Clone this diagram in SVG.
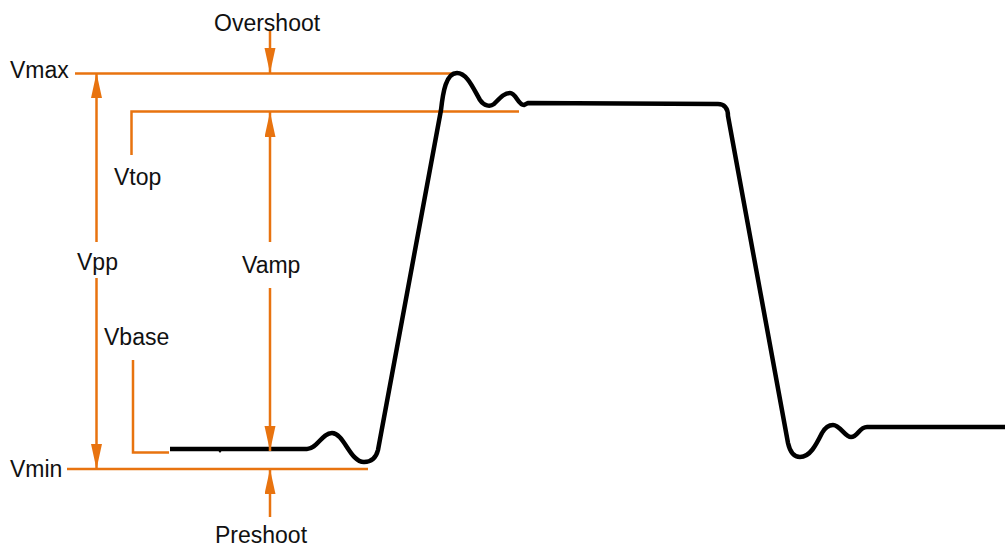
<svg xmlns="http://www.w3.org/2000/svg" width="1005" height="550" viewBox="0 0 1005 550">
  <style>
    .lbl { font-family: "Liberation Sans", Arial, sans-serif; font-size: 23px; fill: #111; }
    .ref { stroke: #E8730F; stroke-width: 2.5; fill: none; }
    .dim { stroke: #E8730F; stroke-width: 2.5; fill: none; }
    .wave { stroke: #000; stroke-width: 4.5; fill: none; stroke-linejoin: round; stroke-linecap: butt; }
  </style>
  <defs>
    <marker id="ah" markerUnits="userSpaceOnUse" markerWidth="26" markerHeight="12" refX="25" refY="5.5" orient="auto">
      <path d="M0,0 L25,5.5 L0,11 Z" fill="#E8730F"/>
    </marker>
  </defs>
  <rect width="1005" height="550" fill="#fff"/>

  <g id="reference-lines">
    <line class="ref" x1="75" y1="73.5" x2="462" y2="73.5"/>
    <polyline class="ref" points="131.5,155 131.5,111.5 519,111.5"/>
    <polyline class="ref" points="133,360 133,452.5 169,452.5"/>
    <line class="ref" x1="67" y1="469" x2="368" y2="469"/>
  </g>

  <g id="waveform">
    <path class="wave" d="M170,449 L307,449 C317,449 322,433 332,433 C344,433 350,462 364,462 C372,462 376,458 378,450 L441,110 C443,92 446,73 457,73 C467,73 473,88 480,100 C484,106 490,107 494,104 C500,98 504,93 510,93 C516,93 518,105 524,105 L528,103 L718,104 C724,104 728,108 728,116 L788,443 C790,452 794,457 800,457 C810,457 816,445 822,433 C826,426 830,425 833,425 C840,425 845,437 851,437 C858,437 859,427 867,427 L1005,427"/>
    <path d="M217,449 L223,449 L220,453 Z" fill="#000"/>
  </g>

  <g id="connectors">
    <line class="dim" x1="270" y1="30" x2="270" y2="73" marker-end="url(#ah)"/>
    <line class="dim" x1="96.5" y1="242" x2="96.5" y2="73" marker-end="url(#ah)"/>
    <line class="dim" x1="96.5" y1="278" x2="96.5" y2="469" marker-end="url(#ah)"/>
    <line class="dim" x1="270" y1="242" x2="270" y2="112" marker-end="url(#ah)"/>
    <line class="dim" x1="270" y1="288" x2="270" y2="451" marker-end="url(#ah)"/>
    <line class="dim" x1="270" y1="517" x2="270" y2="469" marker-end="url(#ah)"/>
  </g>

  <g id="label-overshoot"><text class="lbl" x="214" y="31">Overshoot</text></g>
  <g id="label-vmax"><text class="lbl" x="10" y="78">Vmax</text></g>
  <g id="label-vtop"><text class="lbl" x="114" y="185">Vtop</text></g>
  <g id="label-vpp"><text class="lbl" x="77" y="270">Vpp</text></g>
  <g id="label-vamp"><text class="lbl" x="242" y="273">Vamp</text></g>
  <g id="label-vbase"><text class="lbl" x="104" y="345">Vbase</text></g>
  <g id="label-vmin"><text class="lbl" x="10" y="477">Vmin</text></g>
  <g id="label-preshoot"><text class="lbl" x="215" y="543">Preshoot</text></g>
</svg>
